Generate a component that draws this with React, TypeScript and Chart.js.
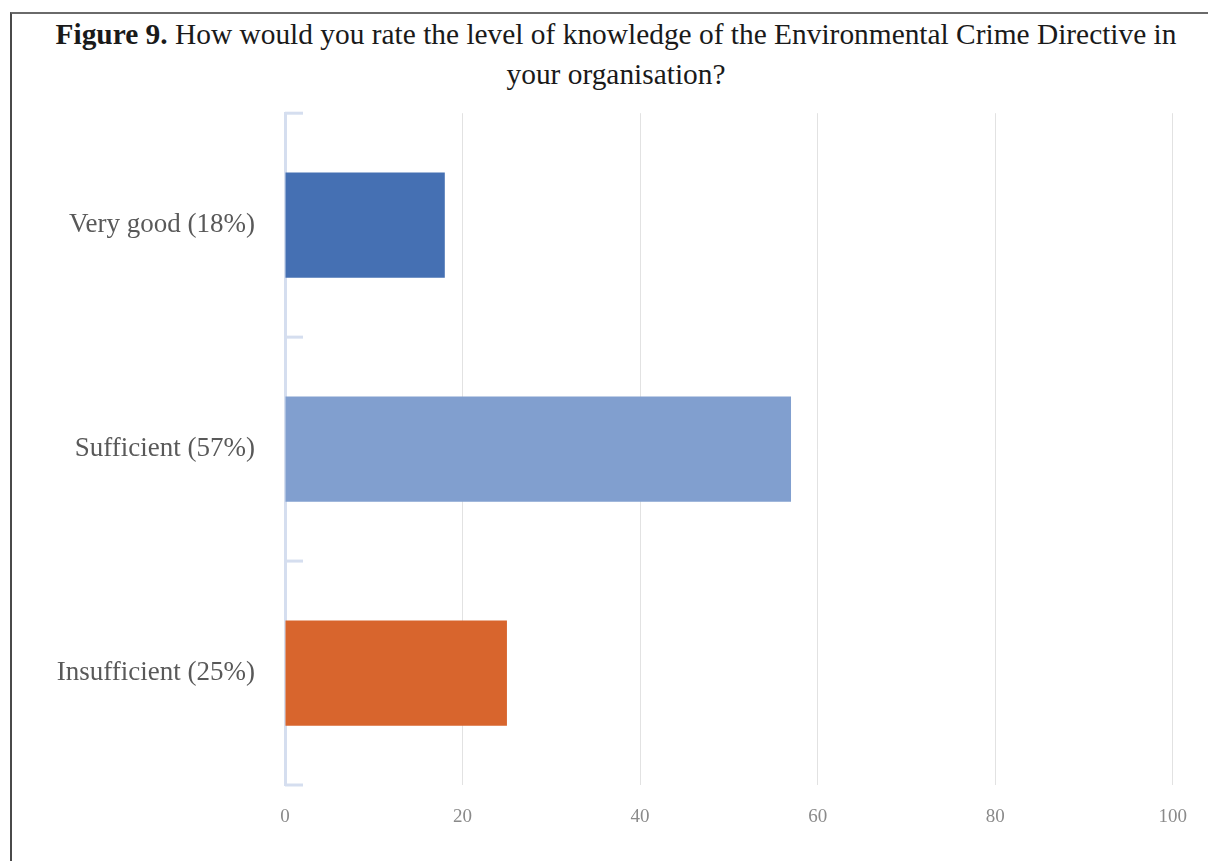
import React, { useEffect, useRef } from "react";
import { Chart, registerables } from "chart.js";

Chart.register(...registerables);

const categories = ["Very good (18%)", "Sufficient (57%)", "Insufficient (25%)"];
const values = [18, 57, 25];
const barColors = ["#4570B3", "#819FCF", "#D8652D"];
const xTicks = [0, 20, 40, 60, 80, 100];

const FONT = "'Liberation Serif', 'Times New Roman', serif";

const categoryTicksPlugin = {
  id: "categoryTicks",
  afterDraw(chart: any) {
    const { ctx, chartArea } = chart;
    const n = categories.length;
    ctx.save();
    ctx.strokeStyle = "#D5DEEF";
    ctx.lineWidth = 3;
    for (let k = 0; k <= n; k++) {
      const y = chartArea.top + (k * (chartArea.bottom - chartArea.top)) / n;
      ctx.beginPath();
      ctx.moveTo(chartArea.left, y);
      ctx.lineTo(chartArea.left + 18, y);
      ctx.stroke();
    }
    ctx.restore();
  },
};

export default function App() {
  const ref = useRef<HTMLCanvasElement | null>(null);

  useEffect(() => {
    if (!ref.current) return;
    const chart = new Chart(ref.current, {
      type: "bar",
      data: {
        labels: categories,
        datasets: [
          {
            data: values,
            backgroundColor: barColors,
            borderWidth: 0,
            categoryPercentage: 1,
            barPercentage: 0.47,
          },
        ],
      },
      options: {
        indexAxis: "y",
        animation: false,
        responsive: false,
        maintainAspectRatio: false,
        layout: { padding: { top: 12, right: 32, bottom: 36, left: 0 } },
        plugins: {
          legend: { display: false },
          title: { display: false },
          tooltip: { enabled: false },
        },
        scales: {
          x: {
            type: "linear",
            min: 0,
            max: 100,
            afterBuildTicks: (scale: any) => {
              scale.ticks = xTicks.map((v) => ({ value: v }));
            },
            afterFit: (scale: any) => {
              scale.height = 40;
            },
            grid: { color: "#E2E2E2", lineWidth: 1, drawTicks: false },
            border: { display: false },
            ticks: {
              color: "#8A8A8A",
              font: { family: FONT, size: 19 },
              padding: 21,
            },
          },
          y: {
            afterFit: (scale: any) => {
              scale.width = 285;
            },
            grid: { display: true, drawOnChartArea: false, drawTicks: false },
            border: { display: true, color: "#D5DEEF", width: 3 },
            ticks: {
              color: "#595959",
              font: { family: FONT, size: 27 },
              padding: 30,
            },
          },
        },
      },
      plugins: [categoryTicksPlugin],
    });
    return () => chart.destroy();
  }, []);

  return (
    <div
      style={{
        position: "absolute",
        left: 0,
        top: 0,
        width: 1208,
        height: 861,
        background: "#ffffff",
        overflow: "hidden",
      }}
    >
      <div
        style={{
          position: "absolute",
          left: 10,
          top: 12,
          width: 1300,
          height: 900,
          borderLeft: "2px solid #4a4a4a",
          borderTop: "2px solid #6a6a6a",
        }}
      />
      <div
        style={{
          position: "absolute",
          left: 11,
          top: 14,
          width: 1210,
          textAlign: "center",
          fontFamily: FONT,
          fontSize: 29.4,
          lineHeight: "40px",
          color: "#1a1a1a",
          whiteSpace: "nowrap",
        }}
      >
        <b>Figure 9.</b> How would you rate the level of knowledge of the Environmental Crime Directive in
        <br />
        your organisation?
      </div>
      <canvas
        ref={ref}
        width={1208}
        height={794}
        style={{ position: "absolute", left: 0, top: 67, width: 1208, height: 794 }}
      />
    </div>
  );
}
